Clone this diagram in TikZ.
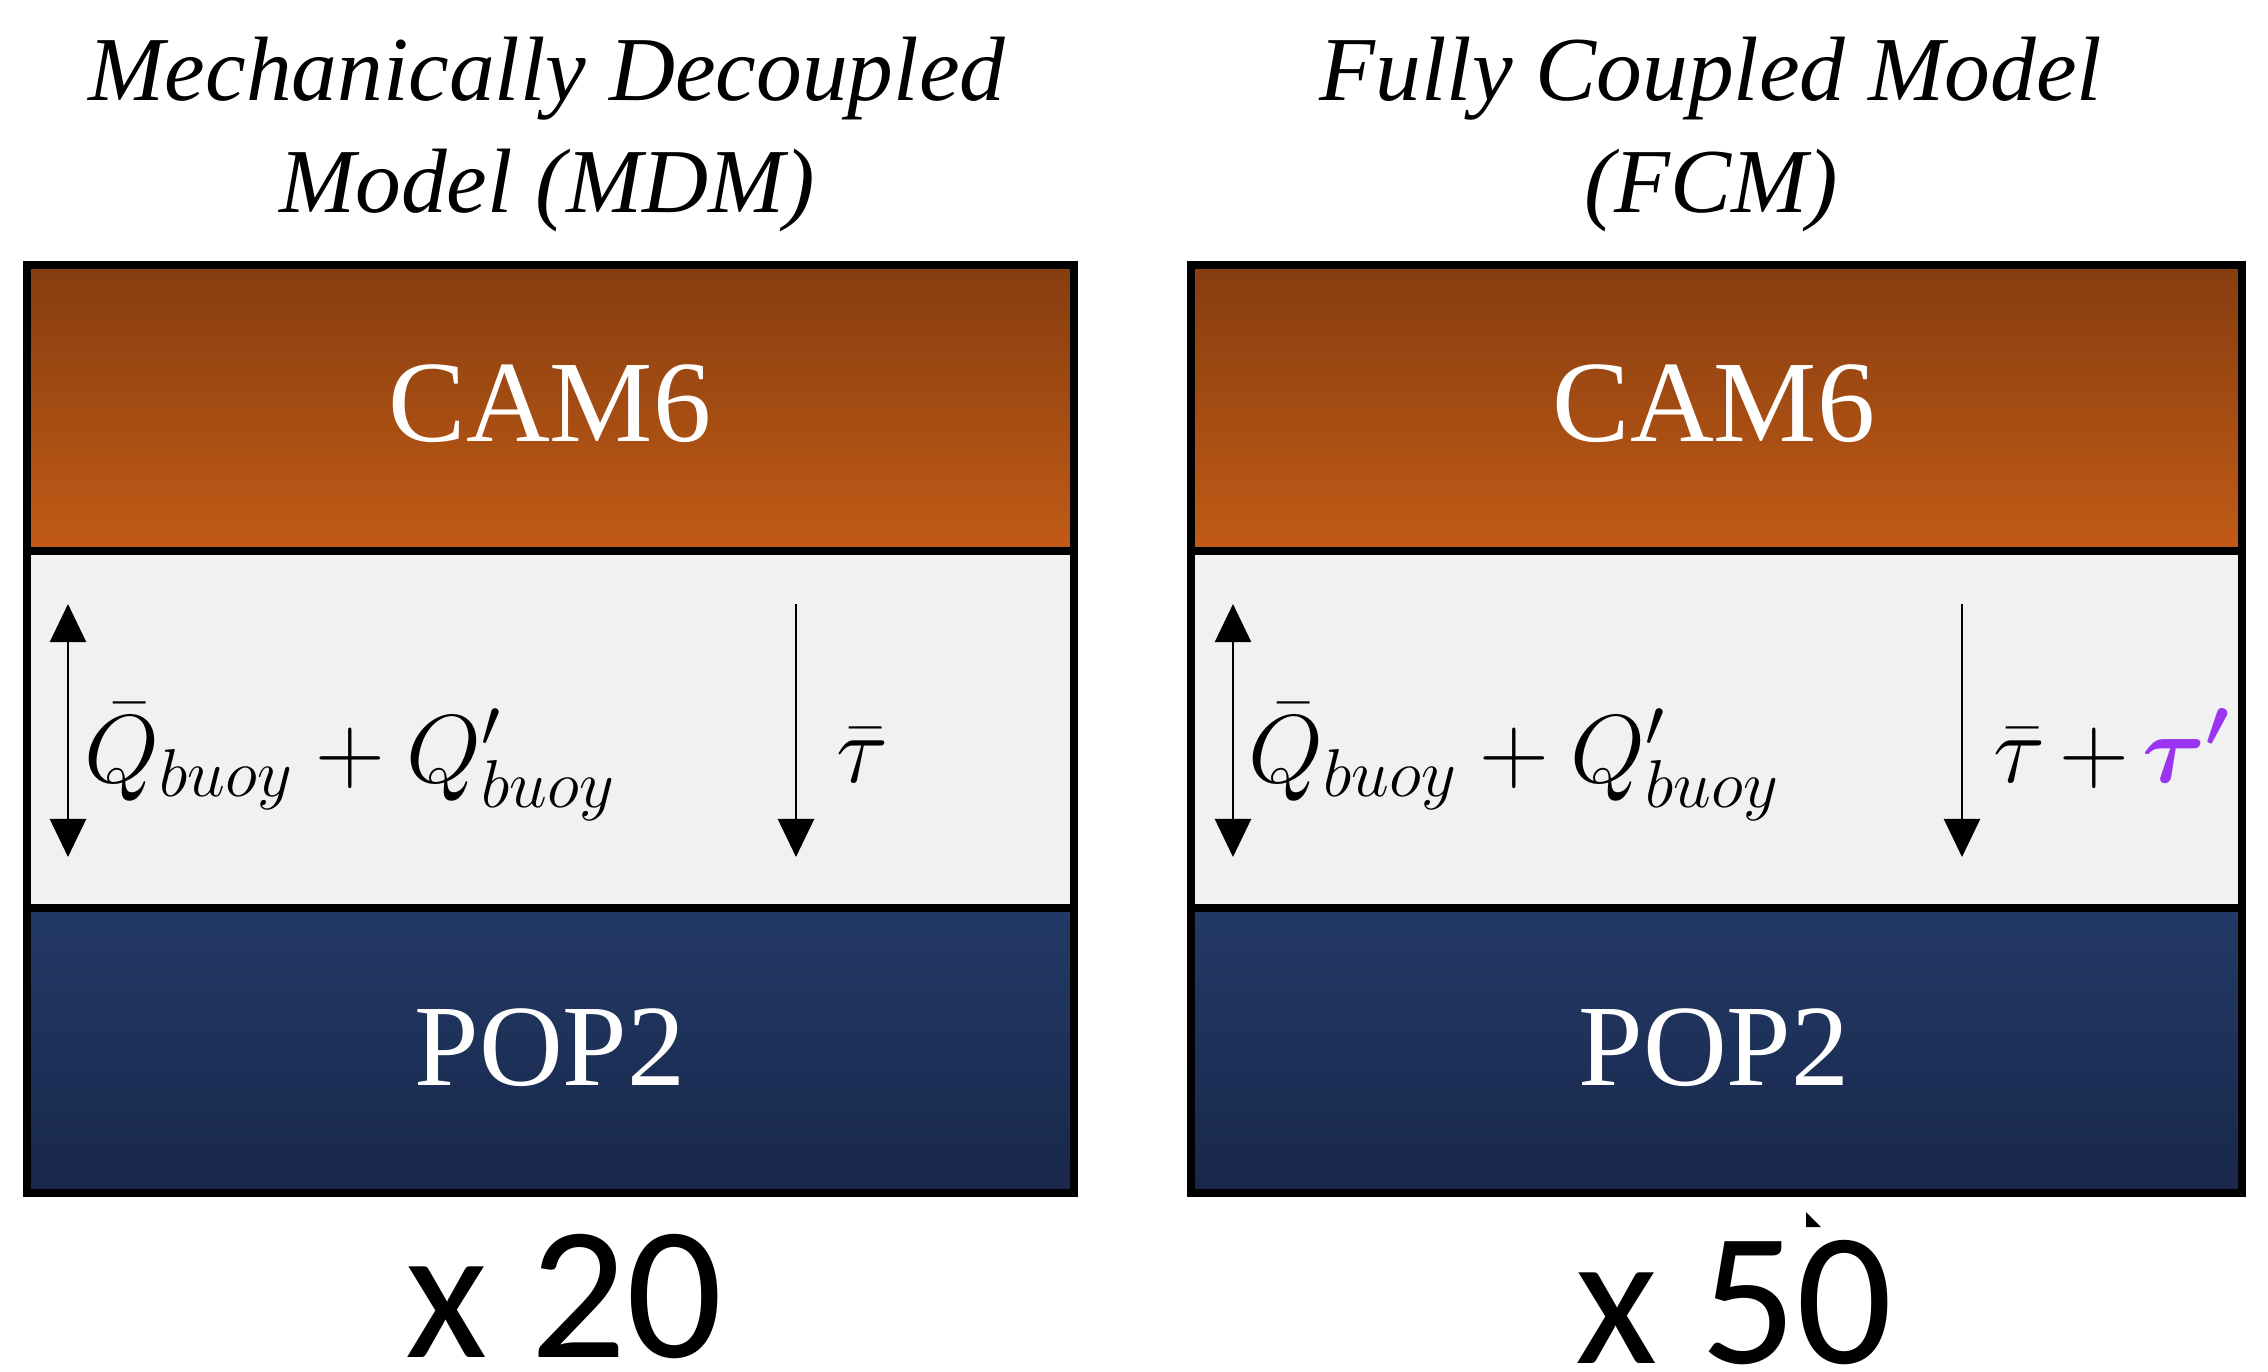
\documentclass[tikz,border=0pt]{standalone}
\usepackage{fix-cm}
\usepackage{amsmath}
\usepackage{fontspec}
\setmainfont{Liberation Serif}
\newfontfamily\calib{Carlito}
\usetikzlibrary{arrows.meta}
\definecolor{orTop}{HTML}{853D10}
\definecolor{orBot}{HTML}{C25B16}
\definecolor{blTop}{HTML}{233A66}
\definecolor{blBot}{HTML}{18274A}
\definecolor{midgrey}{HTML}{F1F1F1}
\definecolor{tauv}{HTML}{9B35F0}
\begin{document}
\begin{tikzpicture}[x=0.01cm,y=-0.01cm,
  titletext/.style={font=\fontsize{26}{31}\selectfont\itshape, inner sep=0pt, anchor=base},
  bandtext/.style={font=\fontsize{33}{38}\selectfont, text=white, inner sep=0pt, anchor=base},
  mathtext/.style={font=\fontsize{27.5}{33}\selectfont, inner sep=0pt, anchor=base west},
  counttext/.style={font=\fontsize{54}{60}\selectfont\calib, inner sep=0pt, anchor=base},
  boxline/.style={line width=0.08cm},
  fluxarrow/.style={line width=0.022cm, {Triangle[length=0.38cm,width=0.36cm]}-{Triangle[length=0.38cm,width=0.36cm]}},
  downarrow/.style={line width=0.022cm, -{Triangle[length=0.38cm,width=0.36cm]}}]
\useasboundingbox (0,0) rectangle (2268,1372);
\fill[white] (0,0) rectangle (2268,1372);

% ---------- left box (MDM) ----------
\shade[top color=orTop, bottom color=orBot] (27,265) rectangle (1074,551);
\fill[midgrey] (27,551) rectangle (1074,908);
\shade[top color=blTop, bottom color=blBot] (27,908) rectangle (1074,1193);
\draw[boxline] (27,265) rectangle (1074,1193);
\draw[boxline] (27,551) -- (1074,551);
\draw[boxline] (27,908) -- (1074,908);

% ---------- right box (FCM) ----------
\shade[top color=orTop, bottom color=orBot] (1191,265) rectangle (2242,551);
\fill[midgrey] (1191,551) rectangle (2242,908);
\shade[top color=blTop, bottom color=blBot] (1191,908) rectangle (2242,1193);
\draw[boxline] (1191,265) rectangle (2242,1193);
\draw[boxline] (1191,551) -- (2242,551);
\draw[boxline] (1191,908) -- (2242,908);

% ---------- titles ----------
\node[titletext] (tl1) at (547,100) {Mechanically Decoupled};
\node[titletext] (tl2) at (547,212) {Model (MDM)};
\node[titletext] (tr1) at (1711,100) {Fully Coupled Model};
\node[titletext] (tr2) at (1711,212) {(FCM)};

% ---------- band labels ----------
\node[bandtext] (camL) at (550,441) {CAM6};
\node[bandtext] (popL) at (550,1085) {POP2};
\node[bandtext] (camR) at (1714,441) {CAM6};
\node[bandtext] (popR) at (1714,1085) {POP2};

% ---------- fluxes ----------
\node[mathtext] (qL) at (84,782) {$\bar{Q}_{buoy} + Q'_{buoy}$};
\node[mathtext] (tauL) at (836,782) {$\bar{\tau}$};
\node[mathtext] (qR) at (1248,782) {$\bar{Q}_{buoy} + Q'_{buoy}$};
\node[mathtext] (tauR) at (1993,782) {$\medmuskip=2.5mu \bar{\tau} + \textcolor{tauv}{\boldsymbol{\tau'}}$};

\coordinate (qLtop) at (68,604);
\coordinate (qLbot) at (68,857);
\coordinate (tLtop) at (796,604);
\coordinate (tLbot) at (796,857);
\coordinate (qRtop) at (1233,604);
\coordinate (qRbot) at (1233,857);
\coordinate (tRtop) at (1962,604);
\coordinate (tRbot) at (1962,857);
\draw[fluxarrow] (qLtop) -- (qLbot);
\draw[downarrow] (tLtop) -- (tLbot);
\draw[fluxarrow] (qRtop) -- (qRbot);
\draw[downarrow] (tRtop) -- (tRbot);

% ---------- ensemble sizes ----------
\node[counttext] (n20) at (564,1357) {x 20};
\node[counttext] (n50) at (1734,1363) {x 50};

% small mark
\fill[black] (1806,1212) -- (1806,1227) -- (1821,1227) -- cycle;
\end{tikzpicture}
\end{document}
